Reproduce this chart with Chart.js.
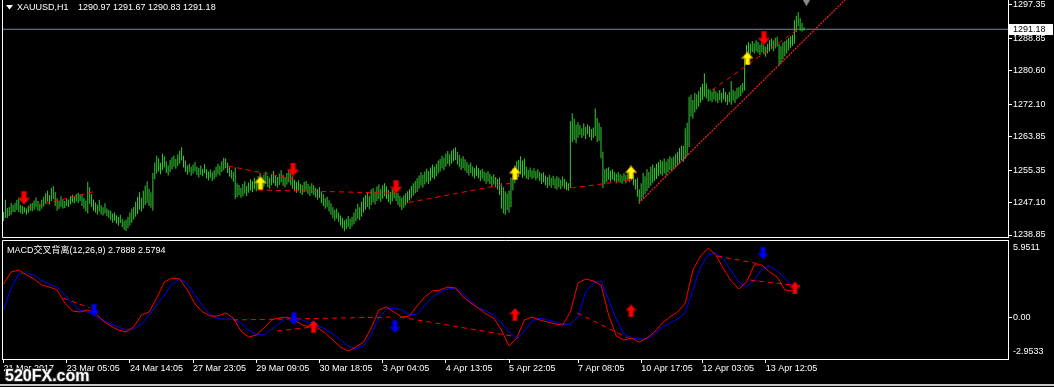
<!DOCTYPE html>
<html><head><meta charset="utf-8">
<script src="https://cdn.jsdelivr.net/npm/chart.js@4.4.0/dist/chart.umd.min.js"></script>
<style>
html,body{margin:0;padding:0;background:#000;width:1054px;height:387px;overflow:hidden;}
canvas{position:absolute;left:0;}
#c1{top:0;} #c2{top:238px;}
</style></head><body>
<canvas id="c1" width="1054" height="238"></canvas>
<canvas id="c2" width="1054" height="149"></canvas>
<script>
// ---------- DATA ----------
const lows = [
1242.4,1243.2,1243.2,1243.7,1244.0,1244.7,1244.7,1245.2,1244.7,1244.4,
1244.2,1244.6,1244.0,1244.5,1245.0,1244.8,1245.3,1245.9,1245.0,1244.9,
1245.5,1246.1,1246.8,1247.3,1246.6,1247.5,1248.0,1246.2,1245.0,1245.5,
1246.0,1245.6,1245.7,1246.2,1246.0,1246.7,1247.1,1246.9,1247.4,1247.0,
1247.5,1246.2,1245.5,1244.8,1244.3,1246.8,1246.0,1245.0,1244.6,1244.0,
1244.8,1244.1,1243.8,1244.3,1243.6,1243.2,1242.6,1242.0,1242.5,1241.8,
1241.2,1241.9,1240.8,1240.2,1239.9,1240.6,1241.3,1242.0,1242.8,1243.5,
1244.2,1245.3,1244.8,1245.6,1246.5,1247.0,1246.2,1245.8,1245.0,1253.0,
1254.5,1255.0,1254.3,1255.3,1256.0,1254.6,1254.0,1254.8,1255.5,1256.2,
1255.7,1256.4,1257.0,1257.8,1256.0,1254.9,1254.2,1254.8,1253.9,1254.5,
1255.0,1254.1,1253.5,1254.2,1253.8,1254.6,1253.3,1252.8,1253.4,1252.6,
1253.0,1253.6,1254.3,1254.0,1254.9,1255.3,1255.8,1254.6,1253.7,1253.2,
1252.4,1248.0,1248.5,1249.0,1248.3,1248.7,1249.4,1248.8,1249.6,1250.2,
1249.8,1250.5,1250.0,1250.8,1251.3,1250.6,1251.2,1251.8,1251.0,1250.7,
1251.5,1252.0,1251.3,1250.9,1251.6,1252.2,1251.4,1251.0,1251.7,1252.3,
1251.5,1250.6,1250.0,1249.6,1250.2,1249.5,1249.0,1249.7,1250.1,1249.3,
1248.8,1249.5,1249.0,1248.4,1247.8,1248.3,1247.0,1246.2,1245.5,1246.0,
1244.8,1244.0,1243.1,1242.5,1243.0,1242.2,1241.3,1240.6,1239.8,1240.3,
1240.9,1240.4,1241.0,1241.6,1242.3,1243.0,1242.6,1243.5,1244.6,1245.3,
1246.0,1245.4,1246.5,1247.2,1246.6,1247.5,1248.0,1247.3,1248.1,1248.7,
1248.0,1247.2,1246.6,1247.4,1248.2,1247.5,1246.5,1245.9,1245.2,1245.8,
1246.4,1247.0,1247.6,1248.2,1248.9,1249.5,1249.8,1250.6,1251.4,1250.9,
1251.7,1252.3,1251.8,1252.6,1253.4,1253.0,1253.8,1254.5,1255.0,1255.8,
1255.3,1256.2,1256.9,1256.4,1257.0,1257.6,1257.9,1256.8,1256.1,1255.4,
1255.9,1255.2,1254.6,1254.0,1254.6,1253.7,1253.2,1253.9,1253.3,1252.6,
1253.2,1252.5,1251.9,1252.4,1251.8,1251.2,1251.7,1251.0,1250.4,1249.0,
1245.5,1244.3,1244.0,1245.2,1244.6,1246.0,1250.2,1252.0,1253.0,1253.6,
1254.3,1253.4,1254.0,1253.2,1252.9,1253.6,1253.0,1253.4,1252.8,1253.3,
1252.6,1251.8,1252.3,1251.5,1250.8,1251.4,1250.9,1251.6,1250.7,1250.4,
1251.0,1250.5,1251.2,1250.6,1250.3,1250.1,1250.8,1262.5,1263.0,1262.2,
1263.6,1264.3,1263.5,1264.1,1263.2,1264.5,1263.8,1262.9,1263.5,1264.0,
1262.5,1262.8,1258.4,1250.8,1251.8,1252.3,1252.9,1252.4,1253.0,1252.5,
1252.0,1252.6,1252.2,1251.9,1252.5,1252.0,1252.8,1252.3,1252.7,1251.5,
1250.4,1248.6,1246.8,1247.5,1248.3,1249.2,1250.0,1250.8,1251.4,1252.0,
1252.6,1253.1,1253.8,1254.3,1253.9,1254.5,1254.0,1254.8,1255.3,1255.0,
1255.6,1256.0,1256.5,1257.0,1257.8,1257.5,1258.2,1259.2,1261.2,1269.0,
1268.5,1270.0,1270.8,1271.5,1272.5,1273.2,1274.0,1273.6,1272.8,1273.0,
1272.6,1273.4,1272.8,1272.4,1273.1,1272.5,1273.3,1272.7,1271.9,1272.6,
1272.0,1273.0,1272.4,1273.4,1273.8,1274.2,1275.0,1275.6,1283.0,1285.0,
1284.8,1285.4,1285.0,1285.6,1285.2,1284.6,1285.3,1284.8,1284.2,1285.0,
1285.5,1286.1,1285.6,1286.3,1286.8,1282.0,1282.6,1283.5,1284.3,1285.0,
1285.8,1286.5,1287.0,1287.5,1290.5,1292.0,1290.8,1290.6,1290.83
];
const highs = [
1244.7,1247.8,1245.7,1246.0,1247.0,1246.5,1247.0,1247.8,1248.3,1246.5,
1246.2,1245.9,1245.6,1246.3,1246.8,1247.0,1247.6,1248.4,1247.5,1246.8,
1247.9,1248.6,1249.5,1250.1,1249.0,1250.8,1251.3,1249.8,1248.2,1247.6,
1248.7,1247.9,1247.5,1248.1,1247.9,1248.8,1249.1,1248.6,1249.3,1249.6,
1249.2,1249.0,1248.3,1247.6,1252.4,1251.0,1249.2,1247.9,1247.1,1246.6,
1247.8,1246.4,1245.9,1246.9,1245.6,1245.3,1245.0,1244.3,1244.6,1243.9,
1243.4,1244.0,1242.9,1242.5,1242.8,1243.5,1244.6,1245.5,1246.0,1247.3,
1248.5,1249.7,1248.3,1250.1,1251.4,1252.5,1250.6,1249.7,1254.6,1257.3,
1259.0,1258.4,1257.2,1259.5,1258.8,1257.6,1256.5,1257.9,1258.6,1259.1,
1258.2,1259.4,1260.3,1261.2,1259.0,1257.8,1256.6,1257.0,1256.2,1256.8,
1257.4,1256.3,1255.9,1256.5,1255.7,1256.9,1255.6,1255.0,1255.5,1254.8,
1255.3,1256.2,1257.0,1256.4,1257.6,1258.5,1258.3,1257.2,1256.1,1255.4,
1254.9,1256.0,1252.0,1251.6,1250.9,1251.8,1252.5,1251.4,1252.2,1253.0,
1252.6,1253.4,1253.0,1253.8,1254.6,1253.5,1254.2,1255.0,1253.9,1253.4,
1254.3,1255.1,1254.0,1253.6,1254.5,1255.3,1254.1,1253.5,1254.6,1255.6,
1254.8,1253.7,1252.9,1252.3,1252.8,1251.9,1251.6,1252.4,1252.6,1251.8,
1251.3,1252.0,1251.5,1250.9,1250.5,1251.0,1250.0,1249.3,1248.2,1248.6,
1247.7,1246.9,1246.0,1245.3,1245.6,1244.6,1243.8,1243.2,1242.6,1242.9,
1243.7,1243.0,1243.5,1244.6,1245.5,1246.8,1245.9,1247.3,1248.4,1249.0,
1249.8,1248.7,1250.4,1250.8,1249.9,1251.2,1251.7,1250.5,1251.5,1252.0,
1251.2,1250.3,1249.8,1250.6,1251.3,1250.4,1249.6,1248.8,1248.3,1248.9,
1249.5,1250.0,1250.5,1251.3,1252.0,1252.6,1253.3,1254.0,1254.8,1254.2,
1255.0,1255.7,1255.1,1256.0,1256.8,1256.2,1257.0,1257.8,1258.2,1259.0,
1258.5,1259.6,1260.2,1259.4,1260.3,1260.8,1261.2,1260.0,1259.2,1258.4,
1258.9,1258.1,1257.4,1256.8,1257.3,1256.3,1255.8,1256.5,1255.9,1255.3,
1255.7,1255.0,1254.6,1255.1,1254.4,1253.8,1254.3,1253.6,1253.1,1253.5,
1252.0,1251.0,1250.0,1249.4,1250.2,1253.5,1255.8,1256.5,1257.6,1257.9,
1258.9,1257.8,1258.3,1256.2,1255.4,1256.0,1255.3,1255.8,1255.1,1255.6,
1254.9,1254.5,1254.8,1254.0,1253.6,1254.2,1253.4,1253.9,1253.2,1253.8,
1253.5,1252.9,1253.7,1253.1,1252.4,1252.0,1267.8,1269.8,1268.4,1266.9,
1267.5,1266.8,1266.0,1267.3,1266.3,1267.0,1266.5,1265.8,1266.2,1271.0,
1268.6,1267.4,1266.3,1260.0,1255.6,1255.8,1256.1,1255.2,1255.6,1254.8,
1254.4,1254.9,1254.3,1254.0,1254.6,1254.1,1255.0,1254.5,1255.3,1254.2,
1253.0,1253.4,1250.5,1252.0,1254.6,1253.8,1255.6,1254.9,1256.2,1256.8,
1256.0,1257.0,1257.4,1258.0,1257.6,1258.3,1257.5,1258.2,1258.9,1258.4,
1258.8,1259.5,1260.0,1261.0,1261.6,1261.5,1266.0,1267.4,1274.0,1274.5,
1273.2,1275.0,1274.6,1275.5,1276.5,1277.3,1280.0,1277.4,1276.0,1275.8,
1275.3,1276.0,1275.4,1274.9,1275.7,1275.0,1276.2,1275.2,1274.6,1275.3,
1278.0,1275.8,1275.4,1276.3,1276.5,1277.0,1277.5,1284.6,1287.2,1287.9,
1287.5,1288.2,1287.6,1288.4,1288.0,1287.3,1287.9,1287.2,1286.7,1287.5,
1288.4,1288.8,1288.3,1289.0,1289.3,1287.5,1286.9,1287.8,1288.1,1288.6,
1289.0,1289.4,1289.7,1293.5,1294.6,1295.5,1294.0,1292.8,1291.67
];
const lastClose = 1291.18;

// MACD main (red) and signal (blue), one reading every 4 bars
const MACD_STEP = 4;
const macdMain = [
2.87,3.90,4.07,3.64,3.30,2.78,2.61,2.36,1.24,0.56,
0.47,0.64,0.39,-0.30,-0.73,-1.07,-1.24,-0.81,0.21,0.47,
1.67,3.04,3.38,3.30,2.36,1.16,0.47,0.13,0.13,0.39,
-0.04,-1.16,-1.67,-1.50,-0.90,-0.21,-0.04,0.04,-0.21,-0.64,
-0.81,-0.90,-1.33,-1.93,-2.53,-2.87,-2.53,-2.10,-0.90,0.64,
0.90,0.47,0.04,0.13,0.99,1.76,2.27,2.36,2.61,2.53,
1.76,1.24,0.81,0.30,-0.04,-1.07,-2.44,-1.76,-0.21,0.04,
-0.21,-0.38,-0.56,-0.64,0.47,2.96,3.30,3.13,2.78,0.21,
-1.58,-1.93,-1.76,-2.10,-1.76,-1.24,-0.47,0.04,0.47,1.24,
4.07,5.27,5.95,5.35,4.15,3.13,2.44,3.04,4.50,4.50,
3.90,3.47,2.36,2.27,2.79
];
const macdSignal = [
0.64,2.53,3.73,3.81,3.64,3.13,2.87,2.61,1.93,1.16,
0.64,0.47,0.13,-0.21,-0.56,-0.81,-1.07,-0.98,-0.56,0.21,
1.07,1.93,2.87,3.30,2.87,1.93,0.99,0.21,-0.13,-0.13,
-0.13,-0.47,-1.07,-1.41,-1.50,-0.98,-0.47,-0.04,-0.04,-0.21,
-0.47,-0.73,-0.98,-1.41,-1.93,-2.44,-2.70,-2.44,-1.50,-0.04,
0.73,0.81,0.64,0.21,0.30,1.07,1.76,2.18,2.44,2.53,
2.01,1.41,0.81,0.56,0.21,-0.47,-1.24,-1.84,-1.16,-0.30,
-0.04,-0.21,-0.38,-0.56,-0.56,0.04,2.18,2.96,3.13,1.50,
-0.13,-1.41,-1.76,-1.84,-1.84,-1.41,-0.81,-0.47,-0.13,0.39,
2.36,4.33,5.35,5.52,5.01,3.98,3.04,2.61,3.21,4.15,
4.41,3.98,3.38,2.70,2.58
];

// signal arrows [barIndex, value]
const priceDownArrows = [[10.7,1248.3],[151.2,1255.5],[205.0,1251.1],[397.1,1288.9]];
const priceUpArrows   = [[134.2,1252.1],[267.1,1254.55],[327.7,1254.75],[388.5,1283.8]];
const macdDownArrows  = [[47.3,0.64],[151.7,-0.08],[204.4,-0.77],[396.6,5.52]];
const macdUpArrows    = [[161.9,-0.77],[267.1,0.26],[327.7,0.56],[413.3,2.53]];
const askMarker = [[419.3,1298.7]];

// divergence lines [x1,y1,x2,y2]
const priceDivLines = [
 [12.3,1245.7,46.7,1249.8],[117.2,1256.4,151.2,1253.1],[132.9,1250.3,204.4,1249.5],
 [207.0,1246.7,265.5,1252.1],[296.3,1250.8,328.7,1252.85],[369.9,1275.7,414.4,1291.0]
];
const macdDivLines = [
 [31.1,1.67,45.2,0.81],[119.8,-0.21,204.4,0.04],[142.8,-1.16,161.6,-0.81],
 [207.0,0.04,265.5,-1.58],[299.5,0.39,326.1,-1.76],[372.6,5.27,395.0,4.58],[389.8,3.21,411.8,2.78]
];
const trendLine = [331.8,1247.0,439.4,1298.62];

// axes
const priceTicks = [1297.35,1288.85,1280.60,1272.10,1263.85,1255.35,1247.10,1238.85];
const macdTicks = [5.9511,0,-2.9533];
const macdTickLabels = ['5.9511','0.00','-2.9533'];
const timeTickIdx = [0,33,66,99,132,165,198,231,264,300,333,365,398];
const timeTickLabels = ['21 Mar 2017','23 Mar 05:05','24 Mar 14:05','27 Mar 23:05','29 Mar 09:05','30 Mar 18:05','3 Apr 04:05','4 Apr 13:05','5 Apr 22:05','7 Apr 08:05','10 Apr 17:05','12 Apr 03:05','13 Apr 12:05'];
const X_MIN = -0.78, X_MAX = 524.54;
const PRICE_MIN = 1238.09, PRICE_MAX = 1298.62;
const MACD_MIN = -3.552, MACD_MAX = 6.636;

// ---------- HELPERS ----------
const FONT_FAMILY = '"Liberation Sans", Arial, "Noto Sans CJK SC", sans-serif';
const FONT = {family: FONT_FAMILY, size: 9};

function arrowImg(fill, edge, up, w, h) {
  const c = document.createElement('canvas'); c.width = w; c.height = h;
  const g = c.getContext('2d');
  const hw = w / 2, head = Math.round(h * 0.48), sw = 2.2;
  g.beginPath();
  if (up) {
    g.moveTo(hw, 0.5); g.lineTo(w - 0.5, head); g.lineTo(hw + sw, head); g.lineTo(hw + sw, h - 0.5);
    g.lineTo(hw - sw, h - 0.5); g.lineTo(hw - sw, head); g.lineTo(0.5, head);
  } else {
    g.moveTo(hw, h - 0.5); g.lineTo(w - 0.5, h - head); g.lineTo(hw + sw, h - head); g.lineTo(hw + sw, 0.5);
    g.lineTo(hw - sw, 0.5); g.lineTo(hw - sw, h - head); g.lineTo(0.5, h - head);
  }
  g.closePath(); g.fillStyle = fill; g.fill();
  g.strokeStyle = edge; g.lineWidth = 1; g.stroke();
  return c;
}
const imgRedDown = arrowImg('#ff0000', '#b00000', false, 12, 14);
const imgYellowUp = arrowImg('#ffff00', '#d08000', true, 12, 14);
const imgBlueDown = arrowImg('#0000ff', '#0000a0', false, 11, 13);
const imgRedUp = arrowImg('#ff0000', '#b00000', true, 11, 13);

function pts(arr) { return arr.map(p => ({x: p[0], y: p[1]})); }
function arrowSet(arr, img) {
  return {type: 'line', data: pts(arr), showLine: false, pointStyle: img, pointRadius: 7, order: 0};
}
function segSet(l, color, dash) {
  return {type: 'line', data: [{x: l[0], y: l[1]}, {x: l[2], y: l[3]}], borderColor: color,
          borderWidth: 1, borderDash: dash, pointRadius: 0, order: 2};
}
function yAxis(min, max, ticks, cb, tickColor) {
  return {
    position: 'right', min, max,
    afterFit(s) { s.width = 46; s.paddingTop = 0; s.paddingBottom = 0; },
    afterBuildTicks(s) { s.ticks = ticks.map(v => ({value: v})); },
    ticks: {color: '#ffffff', font: FONT, padding: 1, autoSkip: false, callback: cb},
    grid: {drawOnChartArea: false, drawTicks: true, tickLength: 4, color: '#ffffff', tickColor},
    border: {display: true, color: '#ffffff', width: 1}
  };
}

// ---------- PRICE CHART ----------
const pricePlugin = {
  id: 'priceDeco',
  afterDraw(chart) {
    const g = chart.ctx; g.save();
    g.strokeStyle = '#ffffff'; g.lineWidth = 1;
    g.beginPath(); g.moveTo(2.5, 0); g.lineTo(2.5, 237.5); g.lineTo(1008, 237.5); g.stroke();
    // title
    g.fillStyle = '#ffffff';
    g.beginPath(); g.moveTo(6, 5); g.lineTo(13, 5); g.lineTo(9.5, 9.5); g.closePath(); g.fill();
    g.font = '9px ' + FONT_FAMILY; g.textBaseline = 'middle'; g.textAlign = 'left';
    g.fillText('XAUUSD,H1', 17, 7.5);
    g.fillText('1290.97 1291.67 1290.83 1291.18', 78, 7.5);
    // current price label
    const y = Math.round(chart.scales.y.getPixelForValue(lastClose));
    g.fillStyle = '#ffffff'; g.fillRect(1009, y - 5, 44, 11);
    g.fillStyle = '#000000'; g.fillText(lastClose.toFixed(2), 1013, y + 0.5);
    g.restore();
  }
};

new Chart(document.getElementById('c1'), {
  type: 'line',
  data: {datasets: [
    {type: 'line', data: [{x: X_MIN, y: lastClose}, {x: X_MAX, y: lastClose}], borderColor: '#778899',
     borderWidth: 1, pointRadius: 0, order: 9},
    {type: 'bar', data: highs.map((h, i) => ({x: i, y: [lows[i], h]})), backgroundColor: '#32cd32',
     borderWidth: 0, barThickness: 1, inflateAmount: 0, order: 5},
    ...priceDivLines.map(l => segSet(l, '#ff0000', [5, 4])),
    {type: 'line', data: [{x: trendLine[0], y: trendLine[1]}, {x: trendLine[2], y: trendLine[3]}],
     borderColor: '#ff2020', borderWidth: 1.2, borderDash: [2, 1], pointRadius: 0, order: 3},
    arrowSet(priceDownArrows, imgRedDown),
    arrowSet(priceUpArrows, imgYellowUp),
    {type: 'line', data: pts(askMarker), showLine: false, pointStyle: 'triangle', rotation: 180,
     pointRadius: 6, backgroundColor: '#8c8c8c', borderColor: '#6c6c6c', borderWidth: 1, order: 0}
  ]},
  options: {
    responsive: false, animation: false, events: [],
    plugins: {legend: {display: false}, tooltip: {enabled: false}},
    layout: {padding: {left: 2, top: 0, right: 0, bottom: 0}, autoPadding: false},
    scales: {
      x: {type: 'linear', min: X_MIN, max: X_MAX, display: false, offset: false},
      y: yAxis(PRICE_MIN, PRICE_MAX, priceTicks, v => Number(v).toFixed(2), '#ffffff')
    }
  },
  plugins: [pricePlugin]
});

// ---------- MACD CHART ----------
const macdPlugin = {
  id: 'macdDeco',
  afterDraw(chart) {
    const g = chart.ctx; g.save();
    g.strokeStyle = '#ffffff'; g.lineWidth = 1;
    g.beginPath(); g.moveTo(2.5, 121); g.lineTo(2.5, 2.5); g.lineTo(1008, 2.5); g.stroke();
    g.fillStyle = '#ffffff';
    g.font = '9px ' + FONT_FAMILY; g.textBaseline = 'middle'; g.textAlign = 'left';
    g.fillText('MACD交叉背离(12,26,9) 2.7888 2.5794', 7, 12.5);
    // watermark
    g.font = 'bold 16px ' + FONT_FAMILY; g.textBaseline = 'middle';
    g.lineWidth = 2; g.strokeStyle = '#303030'; g.strokeText('520FX.com', 5, 139);
    g.fillStyle = '#ffffff'; g.fillText('520FX.com', 5, 139);
    // bottom window edge
    g.fillStyle = '#c8c8c8'; g.fillRect(0, 146, 1054, 2);
    g.restore();
  }
};

new Chart(document.getElementById('c2'), {
  type: 'line',
  data: {datasets: [
    ...macdDivLines.map(l => segSet(l, '#ff0000', [5, 4])),
    {type: 'line', data: macdSignal.map((v, k) => ({x: k * MACD_STEP, y: v})), borderColor: '#0000ff',
     borderWidth: 1, pointRadius: 0, order: 4},
    {type: 'line', data: macdMain.map((v, k) => ({x: k * MACD_STEP, y: v})), borderColor: '#ff0000',
     borderWidth: 1, pointRadius: 0, order: 3},
    arrowSet(macdDownArrows, imgBlueDown),
    arrowSet(macdUpArrows, imgRedUp)
  ]},
  options: {
    responsive: false, animation: false, events: [],
    plugins: {legend: {display: false}, tooltip: {enabled: false}},
    layout: {padding: {left: 2, top: 2, right: 0, bottom: 0}, autoPadding: false},
    scales: {
      x: {
        type: 'linear', min: X_MIN, max: X_MAX, offset: false, position: 'bottom',
        afterFit(s) { s.height = 28; s.paddingLeft = 0; s.paddingRight = 0; },
        afterBuildTicks(s) { s.ticks = timeTickIdx.map(v => ({value: v})); },
        ticks: {color: '#ffffff', font: FONT, padding: 0, autoSkip: false, maxRotation: 0, minRotation: 0,
                align: 'start', callback: (v, i) => timeTickLabels[i]},
        grid: {drawOnChartArea: false, drawTicks: true, tickLength: 4, color: '#ffffff', offset: false},
        border: {display: true, color: '#ffffff', width: 1}
      },
      y: yAxis(MACD_MIN, MACD_MAX, macdTicks, (v, i) => macdTickLabels[i],
               c => (c.tick && c.tick.value === 0) ? '#ffffff' : 'rgba(0,0,0,0)')
    }
  },
  plugins: [macdPlugin]
});
</script>
</body></html>
